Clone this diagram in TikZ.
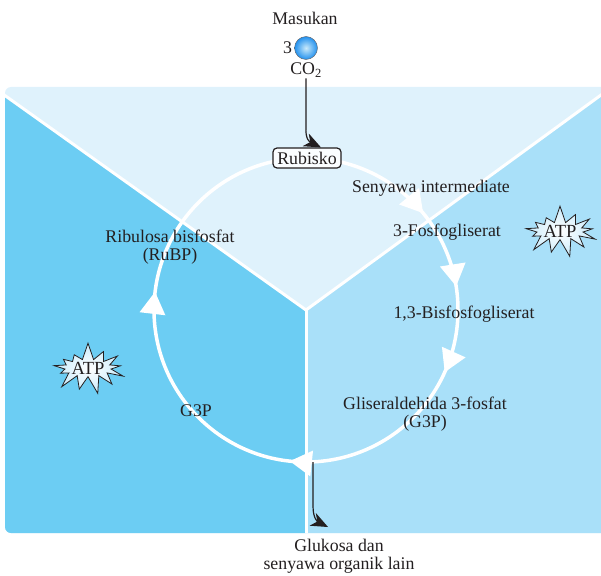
\documentclass[tikz,border=0pt]{standalone}
\usepackage{fontspec}
\setmainfont{Liberation Serif}
\usetikzlibrary{arrows.meta, positioning, shapes.symbols, decorations.markings}
\definecolor{topblue}{RGB}{223,242,252}
\definecolor{leftblue}{RGB}{108,205,243}
\definecolor{rightblue}{RGB}{169,224,249}
\definecolor{ballblue}{RGB}{40,170,235}
\definecolor{ink}{RGB}{35,31,32}
\tikzset{
  lbl/.style    ={font=\fontsize{17.8}{17.5}\selectfont, text=ink, align=center, inner sep=1pt},
  enzbox/.style ={draw=ink, line width=1.2pt, rounded corners=4pt, fill=white!85!topblue,
                  minimum width=68pt, minimum height=20pt, inner sep=2pt,
                  font=\fontsize{17.8}{17.5}\selectfont, text=ink},
  burst/.style  ={starburst, starburst points=13, starburst point height=18pt,
                  random starburst=7, draw=ink, line width=0.8pt,
                  inner color=white, outer color=topblue!60!rightblue,
                  minimum width=78pt, minimum height=50pt, inner sep=0pt,
                  font=\fontsize{18.5}{18}\selectfont, text=ink},
  molecule/.style={circle, minimum size=23pt, inner sep=0pt, draw=ink!70, line width=0.4pt,
                  inner color=white!75!ballblue, outer color=ballblue!85!blue},
  arr/.style    ={-{Stealth[length=17pt, width=14pt, inset=5pt]}, line width=1.2pt, draw=ink},
  divider/.style={draw=white, line width=3pt},
  cyctip/.style ={white, line width=0pt},
  cyc/.style    ={draw=white, line width=3.5pt, postaction={decorate},
                  decoration={markings,
                    mark=at position 0.140 with {\arrow[cyctip]{Triangle[length=22pt, width=26pt]}},
                    mark=at position 0.225 with {\arrow[cyctip]{Triangle[length=22pt, width=26pt]}},
                    mark=at position 0.317 with {\arrow[cyctip]{Triangle[length=22pt, width=26pt]}},
                    mark=at position 0.517 with {\arrow[cyctip]{Triangle[length=22pt, width=26pt]}},
                    mark=at position 0.769 with {\arrow[cyctip]{Triangle[length=22pt, width=26pt]}}}},
}

\begin{document}
\begin{tikzpicture}[x=1pt, y=-1pt]
  \useasboundingbox (0,0) rectangle (601,575);
  \coordinate (cen) at (306,310);

  % stroma panel
  \begin{scope}
    \clip[rounded corners=6pt] (5,87) rectangle (612,533);
    \fill[topblue]   (0,80) rectangle (612,540);
    \fill[leftblue]  (0,92) -- (cen) -- (306,540) -- (0,540) -- cycle;
    \fill[rightblue] (612,87) -- (cen) -- (306,540) -- (612,540) -- cycle;
    \draw[divider] (0,92) -- (cen) -- (612,87);
    \draw[divider] (cen) -- (306,540);
  \end{scope}

  % Calvin cycle
  \draw[cyc] (cen) ++(-90:152) arc[start angle=-90, end angle=270, radius=152];

  % input
  \node[lbl] (masuk) at (305,18) {Masukan};
  \node[molecule] (ball) at (306,48) {};
  \node[lbl, left=1pt of ball] (three) {3};
  \node[lbl, below=2pt of ball] (co2) {CO\textsubscript{2}};
  \node[enzbox] (rub) at (307,158) {Rubisko};

  % labels round the cycle
  \node[lbl] (senint) at (431,188) {Senyawa intermediate};
  \node[lbl] (pga)    at (447,232) {3-Fosfogliserat};
  \node[lbl] (bpg)    at (464,314) {1,3-Bisfosfogliserat};
  \node[lbl] (gap)    at (425,414) {Gliseraldehida 3-fosfat\\(G3P)};
  \node[lbl] (g3p)    at (196,411) {G3P};
  \node[lbl] (rubp)   at (170,247) {Ribulosa bisfosfat\\(RuBP)};
  \node[burst] (atpR) at (560,231) {ATP};
  \node[burst] (atpL) at (88,368)  {ATP};

  % output
  \node[lbl] (out) at (339,556) {Glukosa dan\\senyawa organik lain};
  \coordinate (exit) at (313,462);
  \coordinate (outtip) at (328,527);

  \draw[arr] (co2.south) -- (co2.south |- 0,126)
             .. controls (305,140) and (310,142) .. ([xshift=14pt]rub.north);
  \draw[arr] (exit) -- (313,506) .. controls (313,519) and (318,522) .. (outtip);
\end{tikzpicture}
\end{document}
